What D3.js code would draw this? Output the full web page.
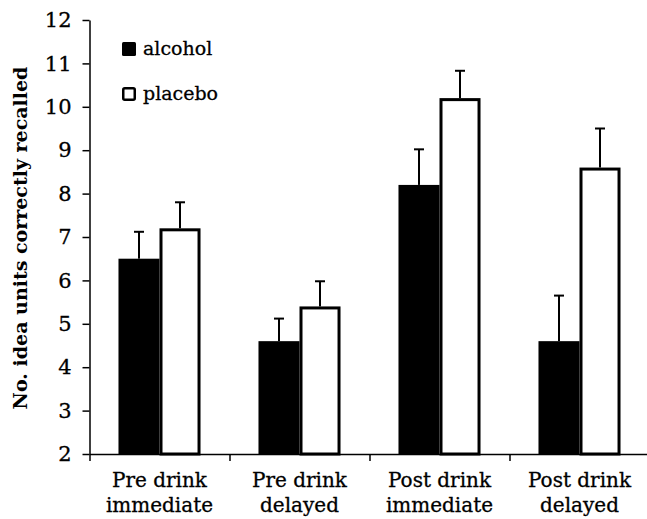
<!DOCTYPE html>
<html>
<head>
<meta charset="utf-8">
<script src="https://cdn.jsdelivr.net/npm/d3@7/dist/d3.min.js"></script>
<style>
  body { margin: 0; background: #fff; }
  text { font-family: "DejaVu Serif", serif; }
</style>
</head>
<body>
<div id="container"></div>
<script>
// DATA
const categories = [["Pre drink", "immediate"], ["Pre drink", "delayed"], ["Post drink", "immediate"], ["Post drink", "delayed"]];
const seriesNames = ["alcohol", "placebo"];
const alcoholMeans = [6.5, 4.6, 8.2, 4.6];
const alcoholErrors = [0.62, 0.52, 0.82, 1.05];
const placeboMeans = [7.2, 5.4, 10.2, 8.6];
const placeboErrors = [0.6, 0.58, 0.63, 0.9];
const yTicks = [2, 3, 4, 5, 6, 7, 8, 9, 10, 11, 12];

const width = 647;
const height = 519;
const margin = { top: 20, right: 0, bottom: 65, left: 89.5 };

const svg = d3.select("#container")
  .append("svg")
  .attr("width", width)
  .attr("height", height);

// SCALES
const xScale = d3.scaleBand()
  .domain(d3.range(categories.length))
  .range([margin.left, margin.left + 560])
  .paddingInner(0.414)
  .paddingOuter(0.207);

const xSub = d3.scaleBand()
  .domain(seriesNames)
  .range([0, xScale.bandwidth()]);

const yScale = d3.scaleLinear()
  .domain([2, 12])
  .range([height - margin.bottom, margin.top]);

const boundary = d3.scaleLinear()
  .domain([0, categories.length])
  .range([margin.left, margin.left + 560]);

const rows = [];
categories.forEach((c, i) => {
  rows.push({ i, series: "alcohol", value: alcoholMeans[i], err: alcoholErrors[i] });
  rows.push({ i, series: "placebo", value: placeboMeans[i], err: placeboErrors[i] });
});

// BARS
svg.selectAll("rect.bar")
  .data(rows)
  .enter()
  .append("rect")
  .attr("class", "bar")
  .attr("x", d => xScale(d.i) + xSub(d.series) + (d.series === "placebo" ? 1.5 : 0))
  .attr("y", d => yScale(d.value) + (d.series === "placebo" ? 1.5 : 0))
  .attr("width", d => xSub.bandwidth() - (d.series === "placebo" ? 3 : 0))
  .attr("height", d => yScale(2) - yScale(d.value) - (d.series === "placebo" ? 1.5 : 0))
  .attr("fill", d => d.series === "alcohol" ? "#000" : "#fff")
  .attr("stroke", d => d.series === "alcohol" ? "none" : "#000")
  .attr("stroke-width", 3);

// ERROR BARS (upward only)
const errG = svg.selectAll("g.err")
  .data(rows)
  .enter()
  .append("g")
  .attr("class", "err")
  .attr("stroke", "#000")
  .attr("stroke-width", 2);

errG.append("line")
  .attr("x1", d => xScale(d.i) + xSub(d.series) + xSub.bandwidth() / 2)
  .attr("x2", d => xScale(d.i) + xSub(d.series) + xSub.bandwidth() / 2)
  .attr("y1", d => yScale(d.value))
  .attr("y2", d => yScale(d.value + d.err));

errG.append("line")
  .attr("x1", d => xScale(d.i) + xSub(d.series) + xSub.bandwidth() / 2 - 5)
  .attr("x2", d => xScale(d.i) + xSub(d.series) + xSub.bandwidth() / 2 + 5)
  .attr("y1", d => yScale(d.value + d.err))
  .attr("y2", d => yScale(d.value + d.err));

// AXES
const yAxisGroup = svg.append("g")
  .attr("transform", `translate(${margin.left}, 0)`)
  .call(d3.axisLeft(yScale).tickValues(yTicks).tickSize(7).tickPadding(11).tickSizeOuter(0));

yAxisGroup.selectAll("text")
  .attr("font-size", 21)
  .attr("fill", "#000")
  .attr("stroke", "#000")
  .attr("stroke-width", 0.3);
yAxisGroup.selectAll("path, line").attr("stroke", "#000").attr("stroke-width", 1.5);

const xAxisGroup = svg.append("g")
  .attr("transform", `translate(0, ${yScale(2)})`)
  .call(d3.axisBottom(boundary).tickValues(d3.range(categories.length)).tickSize(7).tickFormat("").tickSizeOuter(0));
xAxisGroup.selectAll("path, line").attr("stroke", "#000").attr("stroke-width", 1.5);

// Category labels
const catLabels = svg.selectAll("text.cat")
  .data(categories)
  .enter()
  .append("text")
  .attr("class", "cat")
  .attr("text-anchor", "middle")
  .attr("font-size", 20)
  .attr("fill", "#000")
  .attr("stroke", "#000")
  .attr("stroke-width", 0.3);

catLabels.append("tspan")
  .attr("x", (d, i) => xScale(i) + xScale.bandwidth() / 2)
  .attr("y", 487)
  .text(d => d[0]);
catLabels.append("tspan")
  .attr("x", (d, i) => xScale(i) + xScale.bandwidth() / 2)
  .attr("y", 512)
  .text(d => d[1]);

// Y label
svg.append("text")
  .attr("transform", "translate(27, 238) rotate(-90)")
  .attr("text-anchor", "middle")
  .attr("font-size", 19)
  .attr("font-weight", "bold")
  .attr("fill", "#000")
  .text("No. idea units correctly recalled");

// LEGEND
const legend = svg.selectAll("g.legend")
  .data(seriesNames)
  .enter()
  .append("g")
  .attr("class", "legend")
  .attr("transform", (d, i) => `translate(122, ${42 + i * 45})`);

legend.append("rect")
  .attr("x", d => d === "placebo" ? 1.25 : 0)
  .attr("y", d => d === "placebo" ? 1.25 : 0)
  .attr("width", d => d === "placebo" ? 11.5 : 14)
  .attr("height", d => d === "placebo" ? 11.5 : 14)
  .attr("rx", 1.5)
  .attr("fill", d => d === "alcohol" ? "#000" : "#fff")
  .attr("stroke", "#000")
  .attr("stroke-width", d => d === "placebo" ? 2.5 : 0);

legend.append("text")
  .attr("x", 21)
  .attr("y", 13)
  .attr("font-size", 19)
  .attr("fill", "#000")
  .attr("stroke", "#000")
  .attr("stroke-width", 0.3)
  .text(d => d);
</script>
</body>
</html>
